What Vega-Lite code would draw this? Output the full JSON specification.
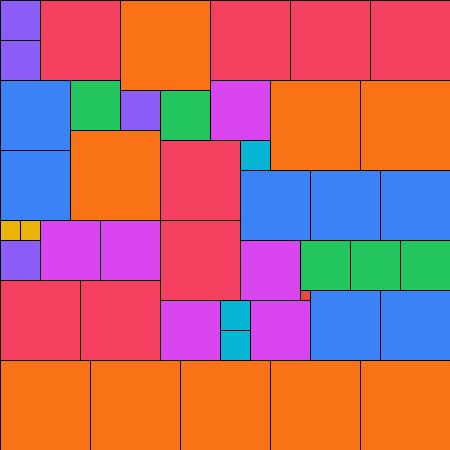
{
  "$schema": "https://vega.github.io/schema/vega-lite/v6.json",
  "width": 450,
  "height": 450,
  "padding": {"left": 0.5, "top": 0.5, "right": 0, "bottom": 0},
  "autosize": {"type": "none"},
  "config": {"view": {"stroke": null}},
  "data": {"values": [
    {"x0": 0, "x1": 4, "y0": 0, "y1": 4, "c": "purple"},
    {"x0": 0, "x1": 4, "y0": 4, "y1": 8, "c": "purple"},
    {"x0": 4, "x1": 12, "y0": 0, "y1": 8, "c": "red"},
    {"x0": 12, "x1": 21, "y0": 0, "y1": 9, "c": "orange"},
    {"x0": 21, "x1": 29, "y0": 0, "y1": 8, "c": "red"},
    {"x0": 29, "x1": 37, "y0": 0, "y1": 8, "c": "red"},
    {"x0": 37, "x1": 45, "y0": 0, "y1": 8, "c": "red"},
    {"x0": 0, "x1": 7, "y0": 8, "y1": 15, "c": "blue"},
    {"x0": 0, "x1": 7, "y0": 15, "y1": 22, "c": "blue"},
    {"x0": 7, "x1": 12, "y0": 8, "y1": 13, "c": "green"},
    {"x0": 12, "x1": 16, "y0": 9, "y1": 13, "c": "purple"},
    {"x0": 16, "x1": 21, "y0": 9, "y1": 14, "c": "green"},
    {"x0": 21, "x1": 27, "y0": 8, "y1": 14, "c": "magenta"},
    {"x0": 24, "x1": 27, "y0": 14, "y1": 17, "c": "cyan"},
    {"x0": 16, "x1": 24, "y0": 14, "y1": 22, "c": "red"},
    {"x0": 7, "x1": 16, "y0": 13, "y1": 22, "c": "orange"},
    {"x0": 27, "x1": 36, "y0": 8, "y1": 17, "c": "orange"},
    {"x0": 36, "x1": 45, "y0": 8, "y1": 17, "c": "orange"},
    {"x0": 24, "x1": 31, "y0": 17, "y1": 24, "c": "blue"},
    {"x0": 31, "x1": 38, "y0": 17, "y1": 24, "c": "blue"},
    {"x0": 38, "x1": 45, "y0": 17, "y1": 24, "c": "blue"},
    {"x0": 16, "x1": 24, "y0": 22, "y1": 30, "c": "red"},
    {"x0": 0, "x1": 2, "y0": 22, "y1": 24, "c": "yellow"},
    {"x0": 2, "x1": 4, "y0": 22, "y1": 24, "c": "yellow"},
    {"x0": 0, "x1": 4, "y0": 24, "y1": 28, "c": "purple"},
    {"x0": 4, "x1": 10, "y0": 22, "y1": 28, "c": "magenta"},
    {"x0": 10, "x1": 16, "y0": 22, "y1": 28, "c": "magenta"},
    {"x0": 0, "x1": 8, "y0": 28, "y1": 36, "c": "red"},
    {"x0": 8, "x1": 16, "y0": 28, "y1": 36, "c": "red"},
    {"x0": 24, "x1": 30, "y0": 24, "y1": 30, "c": "magenta"},
    {"x0": 30, "x1": 35, "y0": 24, "y1": 29, "c": "green"},
    {"x0": 35, "x1": 40, "y0": 24, "y1": 29, "c": "green"},
    {"x0": 40, "x1": 45, "y0": 24, "y1": 29, "c": "green"},
    {"x0": 30, "x1": 31, "y0": 29, "y1": 30, "c": "red2"},
    {"x0": 16, "x1": 22, "y0": 30, "y1": 36, "c": "magenta"},
    {"x0": 22, "x1": 25, "y0": 30, "y1": 33, "c": "cyan"},
    {"x0": 22, "x1": 25, "y0": 33, "y1": 36, "c": "cyan"},
    {"x0": 25, "x1": 31, "y0": 30, "y1": 36, "c": "magenta"},
    {"x0": 31, "x1": 38, "y0": 29, "y1": 36, "c": "blue"},
    {"x0": 38, "x1": 45, "y0": 29, "y1": 36, "c": "blue"},
    {"x0": 0, "x1": 9, "y0": 36, "y1": 45, "c": "orange"},
    {"x0": 9, "x1": 18, "y0": 36, "y1": 45, "c": "orange"},
    {"x0": 18, "x1": 27, "y0": 36, "y1": 45, "c": "orange"},
    {"x0": 27, "x1": 36, "y0": 36, "y1": 45, "c": "orange"},
    {"x0": 36, "x1": 45, "y0": 36, "y1": 45, "c": "orange"}
  ]},
  "mark": {"type": "rect", "stroke": "#000000", "strokeWidth": 1},
  "encoding": {
    "x": {"field": "x0", "type": "quantitative", "scale": {"domain": [0, 45], "nice": false, "zero": false}, "axis": null},
    "x2": {"field": "x1"},
    "y": {"field": "y0", "type": "quantitative", "scale": {"domain": [0, 45], "nice": false, "zero": false, "reverse": true}, "axis": null},
    "y2": {"field": "y1"},
    "color": {"field": "c", "type": "nominal", "legend": null,
      "scale": {"domain": ["purple", "red", "orange", "blue", "green", "magenta", "cyan", "yellow", "red2"],
                "range": ["#8b5cf6", "#f43f5e", "#f97316", "#3b82f6", "#22c55e", "#d946ef", "#06b6d4", "#eab308", "#ef4444"]}}
  }
}
